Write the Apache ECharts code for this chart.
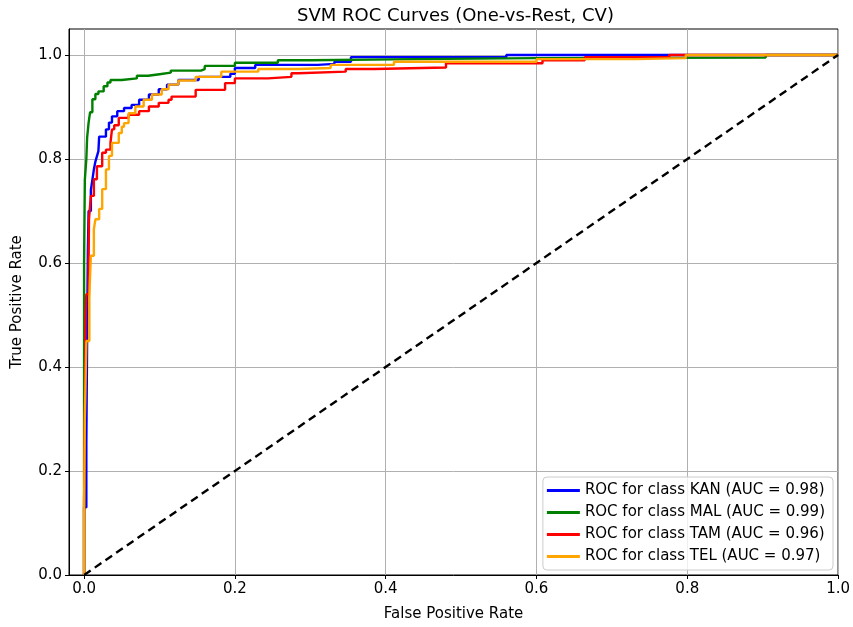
<!DOCTYPE html>
<html>
<head>
<meta charset="utf-8">
<script src="https://cdn.jsdelivr.net/npm/echarts@6/dist/echarts.min.js"></script>
<style>
  html, body { margin: 0; padding: 0; background: #fff; }
  #chart { width: 853px; height: 627px; }
</style>
</head>
<body>
<div id="chart"></div>
<script>
// ROC points [fpr, tpr] (drawn as steps)
const kanRoc = [[0,0],[0,0.13],[0.003,0.25],[0.004,0.45],[0.005,0.62],[0.006,0.70],[0.009,0.74],[0.011,0.76],
  [0.013,0.78],[0.015,0.795],[0.017,0.805],[0.019,0.815],[0.02,0.843],[0.029,0.857],[0.033,0.87],[0.037,0.882],
  [0.044,0.892],[0.053,0.898],[0.063,0.904],[0.073,0.914],[0.086,0.924],[0.099,0.934],[0.11,0.943],[0.125,0.952],
  [0.152,0.958],[0.194,0.964],[0.2,0.975],[0.227,0.981],[0.31,0.983],[0.332,0.987],[0.354,0.996],[0.56,1.0],[1,1]];
const malRoc = [[0,0],[0,0.60],[0.001,0.76],[0.003,0.80],[0.004,0.84],[0.006,0.87],[0.008,0.89],[0.011,0.915],
  [0.015,0.925],[0.019,0.93],[0.026,0.94],[0.031,0.947],[0.035,0.952],[0.05,0.955],[0.07,0.96],[0.085,0.963],
  [0.1,0.966],[0.115,0.97],[0.155,0.973],[0.16,0.979],[0.2,0.985],[0.257,0.99],[0.3,0.992],[0.44,0.994],
  [0.6,0.995],[0.904,1.0],[1,1]];
const tamRoc = [[0,0],[0,0.14],[0.001,0.3],[0.002,0.5],[0.003,0.54],[0.006,0.60],[0.0065,0.684],[0.009,0.729],
  [0.013,0.761],[0.017,0.786],[0.024,0.812],[0.029,0.818],[0.035,0.831],[0.037,0.857],[0.04,0.865],[0.046,0.879],
  [0.059,0.885],[0.073,0.892],[0.086,0.901],[0.099,0.908],[0.112,0.914],[0.116,0.92],[0.148,0.933],[0.187,0.946],
  [0.2,0.955],[0.244,0.958],[0.275,0.965],[0.284,0.968],[0.347,0.973],[0.385,0.976],[0.48,0.984],[0.608,0.99],
  [0.664,0.996],[0.776,1.0],[1,1]];
const telRoc = [[0,0],[0,0.13],[0.001,0.3],[0.003,0.45],[0.007,0.53],[0.0075,0.557],[0.009,0.614],[0.013,0.665],
  [0.015,0.684],[0.02,0.704],[0.024,0.742],[0.029,0.78],[0.033,0.806],[0.037,0.831],[0.046,0.85],[0.05,0.862],
  [0.053,0.869],[0.059,0.888],[0.068,0.901],[0.079,0.914],[0.09,0.924],[0.103,0.934],[0.112,0.943],[0.125,0.951],
  [0.148,0.958],[0.182,0.968],[0.231,0.973],[0.284,0.975],[0.327,0.981],[0.411,0.987],[0.6,0.992],[0.732,0.994],
  [0.798,1.0],[1,1]];
const chanceLine = [[0,0],[1,1]];

const classNames = ['KAN', 'MAL', 'TAM', 'TEL'];
const aucValues = [0.98, 0.99, 0.96, 0.97];
const classColors = ['#0000ff', '#008000', '#ff0000', '#ffa500'];
const rocData = [kanRoc, malRoc, tamRoc, telRoc];
const tickValues = [0, 0.2, 0.4, 0.6, 0.8, 1.0];

const font = 'DejaVu Sans';
const chart = echarts.init(document.getElementById('chart'));

const labels = classNames.map((c, i) => 'ROC for class ' + c + ' (AUC = ' + aucValues[i].toFixed(2) + ')');

const series = rocData.map((d, i) => ({
  name: labels[i],
  type: 'line',
  step: 'end',
  data: d,
  showSymbol: false,
  symbol: 'none',
  color: classColors[i],
  lineStyle: { width: 2.4, color: classColors[i] }
}));
series.push({
  name: 'chance',
  type: 'line',
  data: chanceLine,
  showSymbol: false,
  symbol: 'none',
  lineStyle: { width: 2.4, color: '#000', type: [8, 5] }
});

const axisCommon = {
  type: 'value',
  axisLine: { show: true, onZero: false, lineStyle: { color: '#000', width: 1 } },
  axisTick: { show: true, inside: false, length: 4, lineStyle: { color: '#000' }, customValues: tickValues },
  axisLabel: {
    color: '#000', fontFamily: font, fontSize: 15, margin: 7,
    customValues: tickValues,
    formatter: v => v.toFixed(1)
  },
  splitLine: { show: true, lineStyle: { color: '#b0b0b0', width: 1 } },
  nameLocation: 'middle',
  nameTextStyle: { color: '#000', fontFamily: font, fontSize: 15 }
};

chart.setOption({
  animation: false,
  backgroundColor: '#fff',
  title: {
    text: 'SVM ROC Curves (One-vs-Rest, CV)',
    left: 292,
    top: 2,
    textStyle: { color: '#000', fontFamily: font, fontSize: 18, fontWeight: 'normal' }
  },
  grid: {
    left: 69, right: 11, top: 29, bottom: 49,
    show: true, borderColor: '#000', borderWidth: 1
  },
  legend: {
    data: labels,
    orient: 'vertical',
    right: 20,
    bottom: 57,
    icon: 'rect',
    itemWidth: 33,
    itemHeight: 3,
    itemGap: 7,
    padding: [6, 8, 6, 4],
    backgroundColor: 'rgba(255,255,255,0.8)',
    borderColor: '#cccccc',
    borderWidth: 1,
    borderRadius: 4,
    textStyle: { color: '#000', fontFamily: font, fontSize: 15 }
  },
  xAxis: Object.assign({}, axisCommon, {
    min: -0.02, max: 1.0,
    name: 'False Positive Rate',
    nameGap: 32
  }),
  yAxis: Object.assign({}, axisCommon, {
    min: 0, max: 1.05,
    name: 'True Positive Rate',
    nameGap: 44
  }),
  series: series
});
</script>
</body>
</html>
